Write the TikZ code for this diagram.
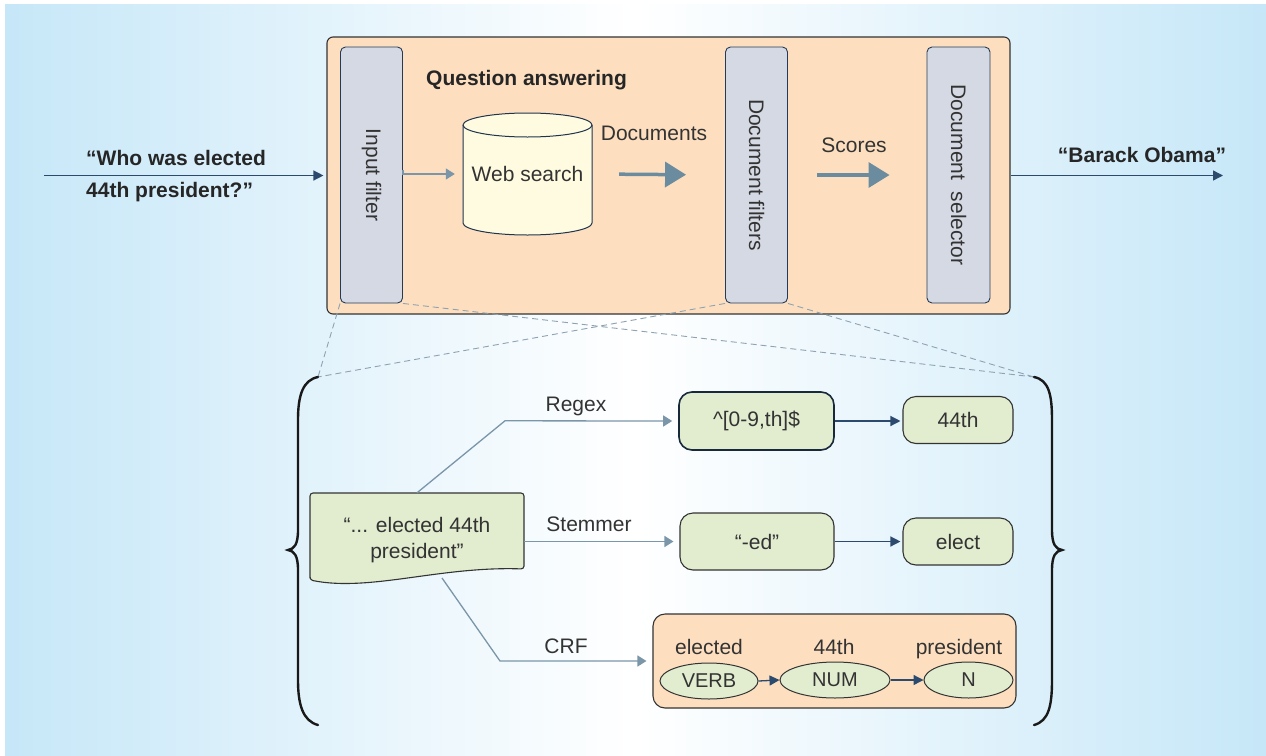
\documentclass[tikz,border=0pt]{standalone}
\usepackage{fontspec}
\usepackage{graphicx}
\setmainfont{Liberation Sans}
\usetikzlibrary{arrows.meta,shapes.geometric}

\definecolor{bgblue}{HTML}{C6E7F8}
\definecolor{qaorange}{HTML}{FDDFC0}
\definecolor{filtergray}{HTML}{D5D9E3}
\definecolor{leafgreen}{HTML}{E2ECCF}
\definecolor{cream}{HTML}{FFFBE1}
\definecolor{navy}{HTML}{2C4A6E}
\definecolor{steel}{HTML}{7B96A9}
\definecolor{bigsteel}{HTML}{6B8C9F}
\definecolor{ink}{HTML}{333333}
\definecolor{dashgray}{HTML}{8EA2B2}

\begin{document}
\begin{tikzpicture}[x=1pt, y=-1pt,
  every node/.style={font=\fontsize{21}{25}\selectfont, text=ink, inner sep=0pt},
  panel/.style={draw=ink, line width=1.1pt, fill=qaorange, rounded corners=6pt},
  stage/.style={draw=navy!80!black, fill=filtergray, rounded corners=5pt,
                line width=0.9pt, minimum width=62pt, minimum height=256pt},
  leaf/.style={draw=ink, fill=leafgreen, rounded corners=13pt, line width=1.1pt},
  tag/.style={ellipse, draw=ink, fill=leafgreen, line width=1pt, minimum height=36pt,
              font=\fontsize{20}{24}\selectfont},
  word/.style={anchor=base},
  navyarrow/.style={draw=navy, line width=1.3pt, -{Triangle[length=10pt,width=10pt]}},
  steelarrow/.style={draw=steel, line width=1.3pt, -{Triangle[length=9pt,width=11pt]}},
  bigarrow/.style={draw=bigsteel, line width=3.5pt, -{Triangle[length=21pt,width=25pt]}},
  zoomline/.style={draw=dashgray, line width=0.9pt, dash pattern=on 6pt off 4pt},
  bracepath/.style={draw=black!90, line width=2.4pt, line cap=round},
  heading/.style={font=\bfseries\fontsize{21}{32}\selectfont, text=black!85}
]
\useasboundingbox (0,0) rectangle (1266,755);

% background
\fill[white] (0,0) rectangle (1266,755);
\shade[left color=bgblue, right color=bgblue, middle color=white] (5,4) rectangle (1266,755);

% question answering pipeline
\node[panel, minimum width=683pt, minimum height=277pt] (qa) at (668.5,175.5) {};
\node[heading, anchor=west] (qatitle) at (426,80) {Question answering};

\node[stage] (inf) at (371.5,175) {\rotatebox{-90}{Input filter}};
\node[stage] (df) at (756.5,175) {\rotatebox{-90}{Document filters}};
\node[stage, minimum width=63pt] (dsel) at (958.5,175) {\rotatebox{-90}{Document~ selector}};

% web search cylinder
\filldraw[fill=cream, draw=navy!70!black, line width=1pt]
  (463,125) -- (463,223)
  .. controls (463,229.6) and (491.9,235) .. (527.5,235)
  .. controls (563.1,235) and (592,229.6) .. (592,223)
  -- (592,125)
  .. controls (592,118.4) and (563.1,113) .. (527.5,113)
  .. controls (491.9,113) and (463,118.4) .. (463,125) -- cycle;
\draw[draw=navy!70!black, line width=1pt]
  (463,125) .. controls (463,131.6) and (491.9,137) .. (527.5,137)
  .. controls (563.1,137) and (592,131.6) .. (592,125);
\node[minimum width=129pt, minimum height=60pt] (ws) at (527.5,174) {Web search};

\draw[steelarrow, shorten <=5pt, shorten >=8pt] (inf.east) -- (ws.west -| inf.east) -- (ws.west);
\draw[bigarrow, shorten <=27pt, shorten >=39pt] (ws.east) -- (df.west);
\draw[bigarrow, shorten <=29pt, shorten >=37pt] (df.east) -- (dsel.west);
\node (docs) at (654,133) {Documents};
\node (scores) at (854,145) {Scores};

% input and output
\coordinate (qin) at (44,175.5);
\coordinate (qout) at (1223,175.5);
\draw[navyarrow, shorten >=3pt] (qin) -- (qa.west);
\draw[navyarrow] (qa.east) -- (qout);
\node[heading, anchor=west, align=left] (question) at (86,176)
  {“Who was elected\\44th president?”};
\node[heading] (answer) at (1142,155) {“Barack Obama”};

% zoom indicator
\coordinate (lbt) at (318,377);
\coordinate (rbt) at (1034,377);
\draw[zoomline] (inf.south west) -- (lbt);
\draw[zoomline] (inf.south east) -- (rbt);
\draw[zoomline] (df.south west) -- (lbt);
\draw[zoomline] (df.south east) -- (rbt);

% braces
\draw[bracepath] (lbt) .. controls (303,380) and (298,395) .. (298,420)
  -- (298,530) .. controls (298,545) and (294,549) .. (288,550)
  .. controls (294,551) and (298,555) .. (298,570)
  -- (298,680) .. controls (298,705) and (303,721) .. (318,725);
\draw[bracepath] (rbt) .. controls (1049,380) and (1052,395) .. (1052,420)
  -- (1052,530) .. controls (1052,545) and (1056,549) .. (1062,550)
  .. controls (1056,551) and (1052,555) .. (1052,570)
  -- (1052,680) .. controls (1052,705) and (1049,721) .. (1034,725);

% input filter detail: source text
\filldraw[fill=leafgreen, draw=ink, line width=1.1pt, rounded corners=3pt]
  (310,580) -- (310,493) -- (524,493) -- (524,569)
  .. controls (440,566) and (370,592) .. (310,580) -- cycle;
\node[minimum width=214pt, minimum height=94pt, align=center,
      font=\fontsize{21}{26}\selectfont] (src) at (417,540)
  {“... elected 44th\\president”};
\coordinate (srcb) at (442,578);

% filter boxes
\node[leaf, draw=navy!55!black, line width=1.6pt, minimum width=155pt, minimum height=58pt]
  (rx) at (756.5,421) {\^{}[0-9,th]\$};
\node[leaf, minimum width=110pt, minimum height=47pt] (n44) at (958,420) {44th};
\node[leaf, minimum width=154pt, minimum height=57pt] (ed) at (757,541.5) {“-ed”};
\node[leaf, minimum width=110pt, minimum height=47pt] (elect) at (958,541.5) {elect};
\node[panel, rounded corners=12pt, minimum width=363pt, minimum height=94pt]
  (crf) at (834.5,661) {};

\draw[steelarrow, shorten >=6pt] (src.north) -- ++(88,-72) -- (rx.west);
\draw[steelarrow, shorten >=6pt] (src.east |- ed.west) -- (ed.west);
\draw[steelarrow, shorten >=6pt] (srcb) -- ++(58,83) -- (crf.west);
\node[word] (lregex) at (576,411) {Regex};
\node[word] (lstem) at (589,531) {Stemmer};
\node[word] (lcrf) at (566,653) {CRF};

\draw[navyarrow, shorten >=2pt] (rx.east) -- (rx.east -| n44.west);
\draw[navyarrow, shorten >=2pt] (ed.east) -- (elect.west);

% CRF tagging
\node[word] (w1) at (709,654) {elected};
\node[word] (w2) at (834,654) {44th};
\node[word] (w3) at (959,654) {president};
\node[tag, minimum width=98pt] (e1) at (709,681) {VERB};
\node[tag, minimum width=110pt] (e2) at (835,680) {NUM};
\node[tag, minimum width=89pt] (e3) at (968.5,680) {N};
\draw[navyarrow] (e1.east) -- (e2.west);
\draw[navyarrow] (e2.east) -- (e3.west);
\end{tikzpicture}
\end{document}
